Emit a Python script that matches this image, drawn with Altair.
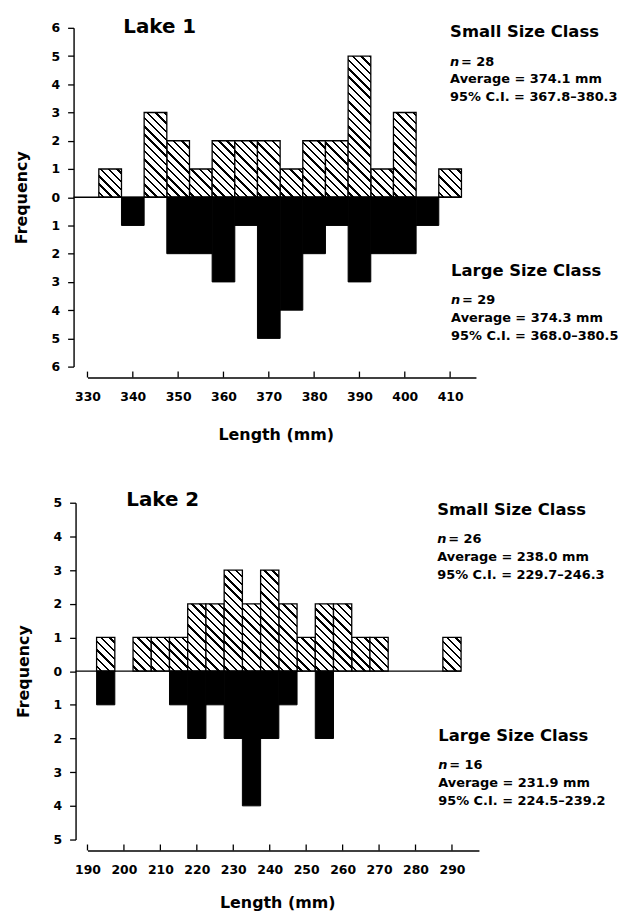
import math
import altair as alt
import pandas as pd

FONT = "DejaVu Sans"
BIN = 5

# ---------------- data ----------------
lake1_centers = [335, 340, 345, 350, 355, 360, 365, 370, 375, 380, 385, 390, 395, 400, 405, 410]
lake1_small = [1, 0, 3, 2, 1, 2, 2, 2, 1, 2, 2, 5, 1, 3, 0, 1]
lake1_large = [0, 1, 0, 2, 2, 3, 1, 5, 4, 2, 1, 3, 2, 2, 1, 0]
lake1_ticks = [330, 340, 350, 360, 370, 380, 390, 400, 410]

lake2_centers = [195, 200, 205, 210, 215, 220, 225, 230, 235, 240,
                 245, 250, 255, 260, 265, 270, 275, 280, 285, 290]
lake2_small = [1, 0, 1, 1, 1, 2, 2, 3, 2, 3, 2, 1, 2, 2, 1, 1, 0, 0, 0, 1]
lake2_large = [1, 0, 0, 0, 1, 2, 1, 2, 4, 2, 1, 0, 2, 0, 0, 0, 0, 0, 0, 0]
lake2_ticks = [190, 200, 210, 220, 230, 240, 250, 260, 270, 280, 290]

lake1_title = "Lake 1"
lake1_small_notes = ["Small Size Class", "= 28", "Average = 374.1 mm", "95% C.I. = 367.8\u2013380.3"]
lake1_large_notes = ["Large Size Class", "= 29", "Average = 374.3 mm", "95% C.I. = 368.0\u2013380.5"]
lake2_title = "Lake 2"
lake2_small_notes = ["Small Size Class", "= 26", "Average = 238.0 mm", "95% C.I. = 229.7\u2013246.3"]
lake2_large_notes = ["Large Size Class", "= 16", "Average = 231.9 mm", "95% C.I. = 224.5\u2013239.2"]


def hatch(w, h, period=5.9, thick=1.7):
    """Diagonal '\\' hatch as a hard-stop linear gradient in bbox units."""
    L = (w + h) / math.sqrt(2)
    s = (w + h) / (w * w + h * h)
    x2 = w * s
    y2 = 1 - h * s
    stops = [{"offset": 0, "color": "white"}]
    pos = period * 0.45
    while pos < L:
        a = pos / L
        b = min((pos + thick) / L, 1)
        stops += [{"offset": a, "color": "white"}, {"offset": a, "color": "black"},
                  {"offset": b, "color": "black"}, {"offset": b, "color": "white"}]
        pos += period
    stops.append({"offset": 1, "color": "white"})
    return {"gradient": "linear", "x1": 0, "y1": 1, "x2": x2, "y2": y2, "stops": stops}


def text_layer(txt, x, y, size, italic=False):
    return alt.Chart(pd.DataFrame({"k": [0]})).mark_text(
        text=txt, font=FONT, fontSize=size, fontWeight="bold",
        fontStyle="italic" if italic else "normal",
        align="left", baseline="alphabetic", color="black",
    ).encode(x=alt.value(x), y=alt.value(y))


def panel(centers, small, large, ticks, dom, ymax, W, H, yoff, xoff, xtp,
          title, title_xy, snotes, sxy, lnotes, lxy):
    df = pd.DataFrame({
        "lo": [c - BIN / 2 for c in centers],
        "hi": [c + BIN / 2 for c in centers],
        "small": small,
        "large": [-v for v in large],
    })
    xs = alt.Scale(domain=dom, nice=False, zero=False)
    ys = alt.Scale(domain=[-ymax, ymax], nice=False, zero=False)
    xaxis = alt.Axis(values=ticks, ticks=False, tickSize=0, labelPadding=13, offset=xoff,
                     domainColor="black", domainWidth=1.4, labelFont=FONT, labelFontSize=12.5,
                     labelFontWeight="bold", labelColor="black", title="Length (mm)",
                     titleFont=FONT, titleFontSize=16, titleFontWeight="bold",
                     titleColor="black", titlePadding=xtp, grid=False, labelFlush=False,
                     titleX=W / 2 - 6)
    yaxis = alt.Axis(values=list(range(-ymax, ymax + 1)), labelExpr="'' + abs(datum.value)",
                     tickSize=6, tickColor="black", tickWidth=1.3, labelPadding=8, offset=yoff,
                     domainColor="black", domainWidth=1.4, labelFont=FONT, labelFontSize=12.5,
                     labelFontWeight="bold", labelColor="black", title="Frequency",
                     titleFont=FONT, titleFontSize=16, titleFontWeight="bold",
                     titleColor="black", titlePadding=22, grid=False)
    bw = BIN * W / (dom[1] - dom[0])
    unit = H / (2 * ymax)

    layers = []
    for h in sorted(set(v for v in small if v > 0)):
        layers.append(
            alt.Chart(df).transform_filter(alt.datum.small == h).mark_bar(
                fill=hatch(bw, h * unit), stroke="black", strokeWidth=1.3
            ).encode(
                x=alt.X("lo:Q", scale=xs, axis=xaxis), x2="hi:Q",
                y=alt.Y("small:Q", scale=ys, axis=yaxis), y2=alt.datum(0),
            )
        )
    layers.append(
        alt.Chart(df).transform_filter(alt.datum.large < 0).mark_bar(
            fill="black", stroke="black", strokeWidth=1
        ).encode(
            x=alt.X("lo:Q", scale=xs, axis=xaxis), x2="hi:Q",
            y=alt.Y("large:Q", scale=ys, axis=yaxis), y2=alt.datum(0),
        )
    )
    layers.append(
        alt.Chart(pd.DataFrame({"e": [max(centers) + BIN / 2]})).mark_rule(
            stroke="black", strokeWidth=1.4
        ).encode(
            x=alt.X("e:Q", scale=xs, axis=xaxis), x2=alt.value(-yoff),
            y=alt.Y(datum=0, scale=ys, axis=yaxis),
        )
    )
    layers.append(
        alt.Chart(pd.DataFrame({"t": ticks})).mark_rule(stroke="black", strokeWidth=1.3).encode(
            x=alt.X("t:Q", scale=xs, axis=xaxis),
            y=alt.value(H + xoff - 6), y2=alt.value(H + xoff),
        )
    )
    layers.append(text_layer(title, title_xy[0], title_xy[1], 20))
    layers.append(text_layer(snotes[0], sxy[0], sxy[1], 16.5))
    layers.append(text_layer("n", sxy[0], sxy[1] + 29, 13, italic=True))
    layers.append(text_layer(snotes[1], sxy[0] + 11, sxy[1] + 29, 13))
    layers.append(text_layer(snotes[2], sxy[0], sxy[1] + 47, 13))
    layers.append(text_layer(snotes[3], sxy[0], sxy[1] + 65, 13))
    layers.append(text_layer(lnotes[0], lxy[0], lxy[1], 16.5))
    layers.append(text_layer("n", lxy[0], lxy[1] + 28, 13, italic=True))
    layers.append(text_layer(lnotes[1], lxy[0] + 11, lxy[1] + 28, 13))
    layers.append(text_layer(lnotes[2], lxy[0], lxy[1] + 46, 13))
    layers.append(text_layer(lnotes[3], lxy[0], lxy[1] + 64, 13))
    return alt.layer(*layers).properties(width=W, height=H)


p1 = panel(lake1_centers, lake1_small, lake1_large, lake1_ticks, [330, 415.7], 6,
           391, 341, 14, 11, 24, lake1_title, (36, 5), lake1_small_notes, (365, 9),
           lake1_large_notes, (366, 250))
p2 = panel(lake2_centers, lake2_small, lake2_large, lake2_ticks, [190, 297.4], 5,
           394, 339, 12, 11, 19, lake2_title, (39, 3), lake2_small_notes, (352, 12),
           lake2_large_notes, (353, 240))

chart = alt.vconcat(p1, p2, spacing=47).properties(
    padding={"left": 5, "top": 6, "right": 4, "bottom": 0}, background="white"
).configure_view(stroke=None)

chart.save("out.html", embed_options={"renderer": "svg", "actions": False})
